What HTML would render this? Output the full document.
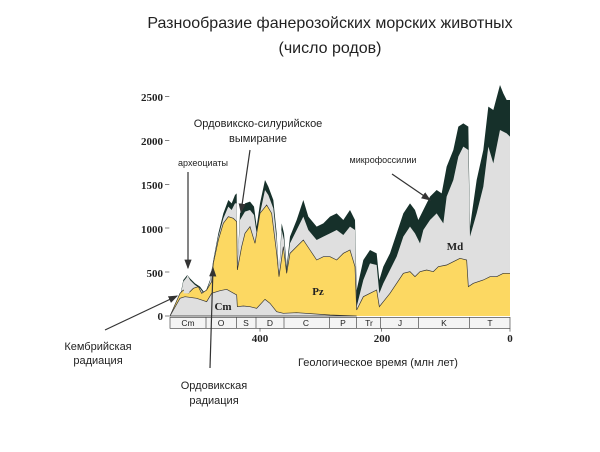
<!DOCTYPE html>
<html><head><meta charset="utf-8"><style>
body{margin:0;background:#fff;width:600px;height:452px;overflow:hidden}
svg{display:block}
.t{font-family:"Liberation Sans",sans-serif;fill:#222}
.n{font-family:"Liberation Serif",serif;font-weight:bold;fill:#222;font-size:11px}
</style></head><body>
<svg width="600" height="452" viewBox="0 0 600 452">
<defs>
<pattern id="dots" width="3" height="3" patternUnits="userSpaceOnUse"><rect width="3" height="3" fill="#e4e4e4"/><rect width="1" height="1" fill="#b8b8b8"/></pattern>
<marker id="ah" markerWidth="8" markerHeight="8" refX="7" refY="4" orient="auto"><path d="M0,1 L8,4 L0,7 z" fill="#333"/></marker>
</defs>
<text class="t" x="330" y="28" font-size="16" text-anchor="middle">Разнообразие фанерозойских морских животных</text>
<text class="t" x="330" y="53" font-size="16" text-anchor="middle">(число родов)</text>
<g transform="translate(130,80) scale(0.33333)">
<polygon fill="#16302a" points="120,708 135,705 150,650 160,600 172,585 180,595 195,610 210,620 225,640 240,600 250,540 265,460 280,400 295,360 305,370 315,345 320,340 322,565 330,400 345,370 360,365 372,380 380,440 390,370 405,300 415,320 430,360 440,460 447,590 455,430 462,460 470,560 480,470 500,420 520,360 535,410 560,440 580,430 600,410 620,400 640,420 660,390 675,420 680,630 700,540 720,510 740,520 748,600 760,560 780,520 800,460 820,400 840,370 855,390 865,420 880,390 900,350 920,330 935,340 950,260 970,210 985,140 1000,130 1015,140 1020,440 1040,300 1060,210 1075,80 1090,90 1110,15 1120,40 1130,60 1140,60 1140,708"/>
<polygon fill="url(#dots)" points="120,708 135,706 150,655 160,605 172,590 180,600 195,615 210,625 225,645 240,605 250,545 265,470 280,415 295,380 305,390 315,370 320,370 322,570 330,420 345,395 360,390 372,405 380,460 390,400 405,330 415,345 430,385 440,480 447,595 455,450 462,480 470,575 480,490 500,450 520,410 535,450 560,480 580,470 600,460 620,450 640,465 660,440 675,450 680,680 700,600 720,550 740,555 748,640 760,610 780,570 800,530 820,470 840,440 855,460 870,490 880,450 900,420 920,400 940,430 950,350 970,300 985,230 1000,200 1015,210 1020,470 1040,400 1060,320 1075,200 1090,250 1110,150 1130,160 1140,170 1140,708"/>
<polygon fill="#fcd862" points="120,708 150,640 160,630 175,640 190,625 205,620 215,640 230,630 245,605 250,550 265,480 280,430 295,410 310,415 320,425 322,570 335,500 345,460 360,440 375,490 390,400 410,375 425,400 440,520 447,590 460,500 470,580 480,520 500,500 520,480 540,510 560,540 580,530 600,530 620,540 640,520 660,510 675,560 680,690 700,650 720,640 740,630 748,680 760,665 780,640 800,610 820,580 840,575 855,590 870,575 890,570 910,575 925,560 950,555 970,545 990,535 1010,540 1015,620 1030,610 1060,600 1080,590 1100,590 1120,580 1140,580 1140,708"/>
<polyline fill="none" stroke="#333" stroke-width="2" points="120,708 150,640 160,630 175,640 190,625 205,620 215,640 230,630 245,605 250,550 265,480 280,430 295,410 310,415 320,425 322,570 335,500 345,460 360,440 375,490 390,400 410,375 425,400 440,520 447,590 460,500 470,580 480,520 500,500 520,480 540,510 560,540 580,530 600,530 620,540 640,520 660,510 675,560 680,690 700,650 720,640 740,630 748,680 760,665 780,640 800,610 820,580 840,575 855,590 870,575 890,570 910,575 925,560 950,555 970,545 990,535 1010,540 1015,620 1030,610 1060,600 1080,590 1100,590 1120,580 1140,580"/>
<polygon fill="url(#dots)" stroke="#333" stroke-width="2" points="120,708 150,655 165,650 200,655 230,665 245,640 270,632 290,628 320,645 322,680 340,678 360,680 380,685 405,658 420,670 440,695 460,700 500,698 600,705 680,708"/>
<polygon fill="url(#dots)" points="160,640 172,585 180,600 178,640"/>
<rect x="120" y="712" width="1020" height="33" fill="#f4f4f4" stroke="#444" stroke-width="2"/>
<g stroke="#444" stroke-width="2">
<line x1="228" y1="712" x2="228" y2="745"/><line x1="320" y1="712" x2="320" y2="745"/><line x1="378" y1="712" x2="378" y2="745"/><line x1="462" y1="712" x2="462" y2="745"/><line x1="598" y1="712" x2="598" y2="745"/><line x1="680" y1="712" x2="680" y2="745"/><line x1="752" y1="712" x2="752" y2="745"/><line x1="866" y1="712" x2="866" y2="745"/><line x1="1018" y1="712" x2="1018" y2="745"/>
<line x1="105" y1="708" x2="118" y2="708"/><line x1="105" y1="576" x2="118" y2="576"/><line x1="105" y1="444" x2="118" y2="444"/><line x1="105" y1="313" x2="118" y2="313"/><line x1="105" y1="181" x2="118" y2="181"/><line x1="105" y1="50" x2="118" y2="50"/>
<line x1="390" y1="745" x2="390" y2="755"/><line x1="755" y1="745" x2="755" y2="755"/><line x1="1140" y1="745" x2="1140" y2="755"/>
</g>
</g>
<g class="t" font-size="8.5" text-anchor="middle" fill="#333">
<text x="188" y="326">Cm</text><text x="221" y="326">O</text><text x="246" y="326">S</text><text x="270" y="326">D</text><text x="306" y="326">C</text><text x="343" y="326">P</text><text x="369" y="326">Tr</text><text x="400" y="326">J</text><text x="444" y="326">K</text><text x="490" y="326">T</text>
</g>
<g class="n" text-anchor="end">
<text x="163" y="101">2500</text><text x="163" y="145">2000</text><text x="163" y="189">1500</text><text x="163" y="233">1000</text><text x="163" y="277">500</text><text x="163" y="320">0</text>
</g>
<g class="n" text-anchor="middle"><text x="260" y="342">400</text><text x="382" y="342">200</text><text x="510" y="342">0</text></g>
<text class="n" x="223" y="310" font-size="15" text-anchor="middle">Cm</text>
<text class="n" x="318" y="295" font-size="17" text-anchor="middle">Pz</text>
<text class="n" x="455" y="250" font-size="17" text-anchor="middle">Md</text>
<text class="t" x="378" y="366" font-size="11" text-anchor="middle">Геологическое время (млн лет)</text>
<text class="t" x="98" y="350" font-size="11" text-anchor="middle">Кембрийская</text>
<text class="t" x="98" y="364" font-size="11" text-anchor="middle">радиация</text>
<text class="t" x="214" y="389" font-size="11" text-anchor="middle">Ордовикская</text>
<text class="t" x="214" y="404" font-size="11" text-anchor="middle">радиация</text>
<text class="t" x="258" y="127" font-size="11" text-anchor="middle">Ордовикско-силурийское</text>
<text class="t" x="258" y="142" font-size="11" text-anchor="middle">вымирание</text>
<text class="t" x="203" y="166" font-size="9" text-anchor="middle">археоциаты</text>
<text class="t" x="383" y="163" font-size="9" text-anchor="middle">микрофоссилии</text>
<g stroke="#333" stroke-width="1.2" marker-end="url(#ah)">
<line x1="105" y1="330" x2="177" y2="296"/>
<line x1="210" y1="368" x2="213" y2="268"/>
<line x1="250" y1="150" x2="241" y2="212"/>
<line x1="188" y1="172" x2="188" y2="268"/>
<line x1="392" y1="174" x2="430" y2="200"/>
</g>
</svg>
</body></html>
